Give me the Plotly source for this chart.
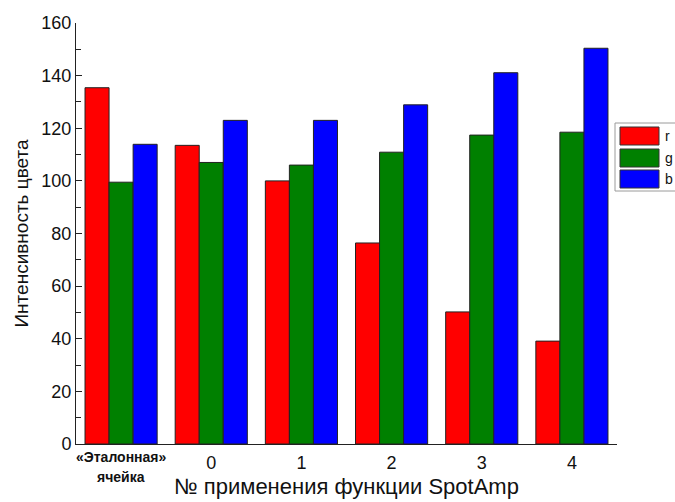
import plotly.graph_objects as go

# Categories along the x axis (the first one is written on two lines)
categories = ["«Эталонная» ячейка", "0", "1", "2", "3", "4"]
first_label_lines = ["«Эталонная»", "ячейка"]
tick_labels = ["", "0", "1", "2", "3", "4"]

# Colour channel intensities per category
series_names = ["r", "g", "b"]
r_values = [135.4, 113.5, 100.0, 76.4, 50.2, 39.1]
g_values = [99.5, 107.0, 106.0, 110.9, 117.4, 118.5]
b_values = [113.9, 123.0, 123.0, 128.9, 141.1, 150.4]
series_values = [r_values, g_values, b_values]
series_colors = ["#FF0000", "#008000", "#0000FF"]

FONT = "Arial, 'Liberation Sans', sans-serif"

x_idx = list(range(len(categories)))

fig = go.Figure()
for name, vals, col in zip(series_names, series_values, series_colors):
    fig.add_trace(go.Bar(
        x=x_idx, y=vals, name=name,
        marker=dict(color=col, line=dict(color="#222222", width=1)),
        showlegend=False,
    ))

# Plot area in pixels
L, R = 76, 617
T, B = 23, 444
W, H = R - L, B - T

def px_x(p):
    return (p - L) / W

def px_y(p):
    return (B - p) / H

# Hand-drawn legend box with wide swatches
shapes = [dict(type="rect", xref="paper", yref="paper",
               x0=px_x(615), x1=px_x(690), y0=px_y(191), y1=px_y(123),
               line=dict(color="#9a9a9a", width=1), fillcolor="white", layer="above")]
annotations = []
row_tops = [127, 149, 170]
for name, col, top in zip(series_names, series_colors, row_tops):
    shapes.append(dict(type="rect", xref="paper", yref="paper",
                       x0=px_x(620), x1=px_x(659), y0=px_y(top + 18), y1=px_y(top),
                       line=dict(color="#333333", width=1), fillcolor=col, layer="above"))
    annotations.append(dict(xref="paper", yref="paper", x=px_x(663), y=px_y(top + 9),
                            text=name, showarrow=False, xanchor="left", yanchor="middle",
                            font=dict(family=FONT, size=14, color="#111111")))

# Two-line bold label under the first category
for line, y_px in zip(first_label_lines, [457, 477]):
    annotations.append(dict(xref="x", yref="paper", x=x_idx[0], y=px_y(y_px),
                            text="<b>%s</b>" % line, showarrow=False,
                            xanchor="center", yanchor="middle",
                            font=dict(family=FONT, size=14, color="#111111")))

fig.update_layout(
    width=675, height=502,
    margin=dict(l=L, r=675 - R, t=T, b=502 - B),
    paper_bgcolor="white", plot_bgcolor="white",
    barmode="group", bargap=0.2, bargroupgap=0.0,
    font=dict(family=FONT, color="#111111"),
    shapes=shapes, annotations=annotations,
    xaxis=dict(
        automargin=False,
        range=[-0.5, 5.5], tickmode="array", tickvals=x_idx, ticktext=tick_labels,
        showgrid=False, zeroline=False, showline=True, linecolor="#222222", linewidth=1,
        ticks="", ticklabelstandoff=2, tickfont=dict(family=FONT, size=18, color="#111111"),
        title=dict(text="№ применения функции SpotAmp", standoff=7,
                   font=dict(family=FONT, size=22, color="#111111")),
    ),
    yaxis=dict(
        automargin=False,
        range=[0, 160], tickmode="linear", tick0=0, dtick=20,
        showgrid=False, zeroline=False, showline=True, linecolor="#222222", linewidth=1,
        ticks="inside", ticklen=6, tickcolor="#222222",
        minor=dict(ticks="inside", ticklen=5, dtick=10, tickcolor="#222222"),
        tickfont=dict(family=FONT, size=18, color="#111111"),
        title=dict(text="Интенсивность цвета", standoff=7,
                   font=dict(family=FONT, size=19, color="#111111")),
    ),
)

fig.write_html("out.html")
